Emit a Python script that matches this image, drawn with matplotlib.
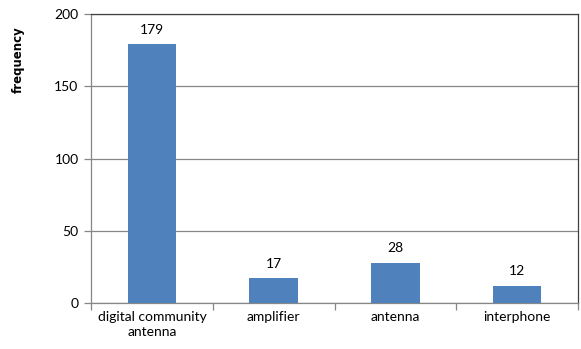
import matplotlib as mpl
import matplotlib.pyplot as plt

plt.rc('font', family=['Lato', 'DejaVu Sans'], size=10)

categories = ['digital community\nantenna', 'amplifier', 'antenna', 'interphone']
counts = [179, 17, 28, 12]

fig = plt.figure(figsize=(5.81, 3.49), dpi=100)
ax = fig.add_axes([91 / 581, 1 - 303 / 349, 487 / 581, 289 / 349])

pos = list(range(len(counts)))
bars = ax.bar(pos, counts, width=0.4, color='#4F81BD', zorder=3)

ax.set_xlim(-0.5, len(counts) - 0.5)
ax.set_ylim(0, 200)
ax.set_yticks([0, 50, 100, 150, 200])
ax.set_xticks(pos)
ax.set_xticklabels(categories, linespacing=1.3)
ax.set_xticks([p - 0.5 for p in pos] + [len(counts) - 0.5], minor=True)

ax.yaxis.grid(True, color='#868686', linewidth=0.9, zorder=0)
ax.tick_params(axis='x', which='major', length=0, pad=6)
ax.tick_params(axis='x', which='minor', length=5, color='#868686', width=0.9)
ax.tick_params(axis='y', length=5, color='#868686', width=0.9, pad=4)

for side in ['left', 'bottom']:
    ax.spines[side].set_color('#868686')
    ax.spines[side].set_linewidth(0.9)
for side in ['top', 'right']:
    ax.spines[side].set_color('#404040')
    ax.spines[side].set_linewidth(0.9)

for rect, v in zip(bars, counts):
    ax.annotate(str(v), (rect.get_x() + rect.get_width() / 2, v),
                xytext=(0, 6), textcoords='offset points',
                ha='center', va='bottom')

fig.text(18 / 581, 1 - 60 / 349, 'frequency', rotation=90, weight='bold',
         family='DejaVu Sans', ha='center', va='center', fontsize=8.5)

fig.savefig('out.png', dpi=100)
